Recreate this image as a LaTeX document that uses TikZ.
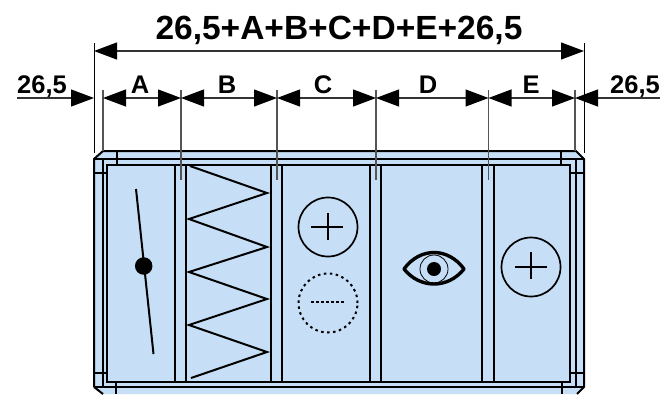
\documentclass[tikz,border=0pt]{standalone}
\usepackage{fontspec}
\setmainfont{Liberation Sans}
\usetikzlibrary{arrows.meta}
\definecolor{panelblue}{RGB}{198,222,246}
\definecolor{tickgray}{RGB}{85,85,85}
\tikzset{
    dimline/.style={line width=1.2pt,black!80,>={Triangle[length=23pt,width=17pt,black]}},
    dimtick/.style={line width=1.2pt,tickgray},
    wall/.style={line width=2pt},
    smalllabel/.style={anchor=base,inner sep=0pt,font=\fontsize{25.5}{26}\selectfont\bfseries},
    biglabel/.style={anchor=base,inner sep=0pt,font=\fontsize{33.5}{34}\selectfont\bfseries},
    ring/.style={circle,draw,line width=1.7pt,minimum size=59pt,inner sep=0pt}
}
\begin{document}
\begin{tikzpicture}[x=1pt,y=-1pt]
    \useasboundingbox(0,0)rectangle(660,394);
    % casing
    \fill[panelblue](94,159)--(103,151)--(576,151)--(584,159)--(584,387)--(577,394)--(103,394)--(94,387)--cycle;
    \draw[wall](94,387)--(94,159)--(103,151)--(576,151)--(584,159)--(584,387)--(577,394);
    \draw[wall](94,387)--(103,394);
    \draw[wall](94,159)--(584,159);
    \draw[wall](94,387)--(584,387);
    \draw[wall](103,159)--(103,387);
    \draw[wall](576,159)--(576,387);
    \draw[wall](117,151)--(117,165);
    \draw[wall](561,151)--(561,165);
    \draw[wall](116,382)--(116,394);
    \draw[wall](562,382)--(562,394);
    \draw[wall](94,173)--(107,173);
    \draw[wall](570,173)--(584,173);
    \draw[wall](94,373)--(107,373);
    \draw[wall](570,373)--(584,373);
    \draw[wall,fill=panelblue](107,165)rectangle(570,382);
    % section walls
    \foreach \x in {175,186,271,282,370,381,482,494}
        \draw[wall](\x,165)--(\x,382);
    % damper
    \node[circle,fill,minimum size=17.5pt,inner sep=0pt](flap)at(143.7,266){};
    \coordinate(flaptop)at(136,189);
    \coordinate(flapend)at(153.5,354);
    \draw[wall](flaptop)--(flapend);
    % coil
    \draw[wall](190,166)--(267,193)--(189,219)--(267,247)--(189,272)--(267,299)--(189,325)--(267,352)--(191,378);
    % heater, cooler
    \node[ring](heat)at(328,227){};
    \draw[line width=1.7pt](311,227)--(343,227);
    \draw[line width=1.7pt](328,213)--(328,240);
    \node[ring,line width=2pt,dash pattern=on 2.5pt off 3.5pt](cool)at(328,303){};
    \draw[line width=2pt,dash pattern=on 3pt off 2pt](311,302)--(345,302);
    % eye
    \node[circle,fill,minimum size=14pt,inner sep=0pt](pupil)at(434,269){};
    \node[circle,draw,line width=.8pt,minimum size=28pt,inner sep=0pt](iris)at(434,269){};
    \draw[line width=3.4pt,line join=round](404,269).. controls (420,247) and (448,247) ..(464,269).. controls (448,289) and (420,289) ..(404,269)--cycle;
    % second heater
    \node[ring](reheat)at(531,267){};
    \draw[line width=1.7pt](515,267)--(547,267);
    \draw[line width=1.7pt](531,252)--(531,279);
    % dimension ticks
    \draw[line width=1pt,black](94,43)--(94,153);
    \draw[line width=1pt,black](584,43)--(584,153);
    \foreach \x/\ymax in {103/151,181/180,277/180,376/180,488.5/180,575/151}
        \draw[dimtick](\x,90)--(\x,\ymax);
    % dimension lines
    \foreach \n/\x in {o/17,p/94,q/103,r/181,s/277,t/376,u/488.5,v/575,w/660}
        \coordinate(\n)at(\x,98);
    \coordinate(topl)at(94,51);
    \coordinate(topr)at(584,51);
    \draw[dimline,->](o)--(p);
    \foreach \a/\b in {q/r,r/s,s/t,t/u,u/v}
        \draw[dimline,<->](\a)--(\b);
    \draw[dimline,->](w)--(v);
    \draw[dimline,<->](topl)--(topr);
    % labels
    \node[biglabel](total)at(339,39){26,5+A+B+C+D+E+26,5};
    \node[smalllabel](left)at(42,93){26,5};
    \node[smalllabel](la)at(140,93){A};
    \node[smalllabel](lb)at(227,93){B};
    \node[smalllabel](lc)at(323,93){C};
    \node[smalllabel](ld)at(428,93){D};
    \node[smalllabel](le)at(531,93){E};
    \node[smalllabel](right)at(635,93){26,5};
\end{tikzpicture}
\end{document}
